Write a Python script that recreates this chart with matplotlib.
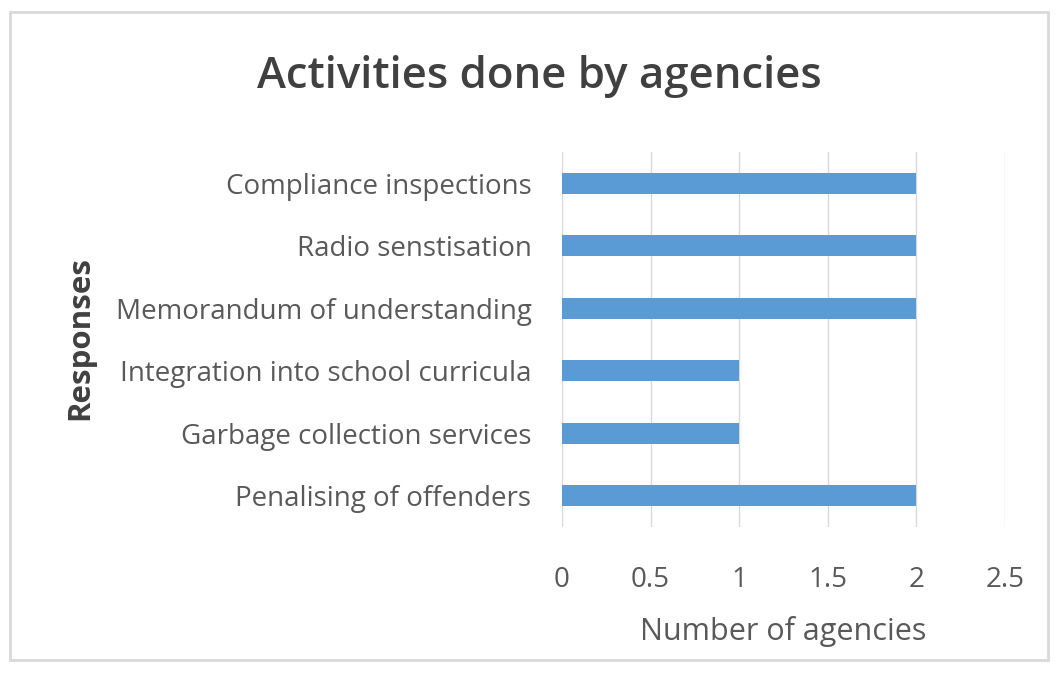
import matplotlib.pyplot as plt
from matplotlib.patches import Rectangle
import numpy as np

# data, bottom to top as drawn
responses = ["Penalising of offenders", "Garbage collection services",
             "Integration into school curricula", "Memorandum of understanding",
             "Radio senstisation", "Compliance inspections"]
agencies = [2, 1, 1, 2, 2, 2]
xticks = [0, 0.5, 1, 1.5, 2, 2.5]

plt.rcParams['font.family'] = ['Open Sans', 'DejaVu Sans']
text_col = '#595959'

fig = plt.figure(figsize=(10.56, 6.86), dpi=100)
ax = fig.add_axes([562 / 1056, 1 - 527 / 686, 443 / 1056, 375 / 686])

# chart border
fig.patches.append(Rectangle((10 / 1056, 1 - 660 / 686), 1038 / 1056, 648 / 686,
                             transform=fig.transFigure, fill=False,
                             edgecolor='#d9d9d9', linewidth=2))

y = np.arange(len(responses))
ax.barh(y, agencies, height=0.34, color='#5b9bd5', zorder=3)

ax.set_xlim(0, 2.5)
ax.set_ylim(-0.5, len(responses) - 0.5)
ax.set_xticks(xticks)
ax.set_xticklabels([f"{t:g}" for t in xticks])
ax.set_yticks(y)
ax.set_yticklabels(responses)
ax.grid(axis='x', color='#d9d9d9', linewidth=1, zorder=0)
for s in ax.spines.values():
    s.set_visible(False)
ax.tick_params(axis='both', length=0, colors=text_col, labelsize=20)
ax.tick_params(axis='y', pad=22)
ax.tick_params(axis='x', pad=28)

ax.set_xlabel("Number of agencies", fontsize=22, color=text_col, labelpad=16)
fig.text(80 / 1056, 1 - 338 / 686, "Responses", rotation=90, fontsize=22.5,
         fontweight='bold', color='#404040', ha='center', va='center')
fig.text(539 / 1056, 1 - 76 / 686, "Activities done by agencies", fontsize=31.5,
         fontweight='semibold', color='#404040', ha='center', va='center')

fig.savefig("out.png", dpi=100)
